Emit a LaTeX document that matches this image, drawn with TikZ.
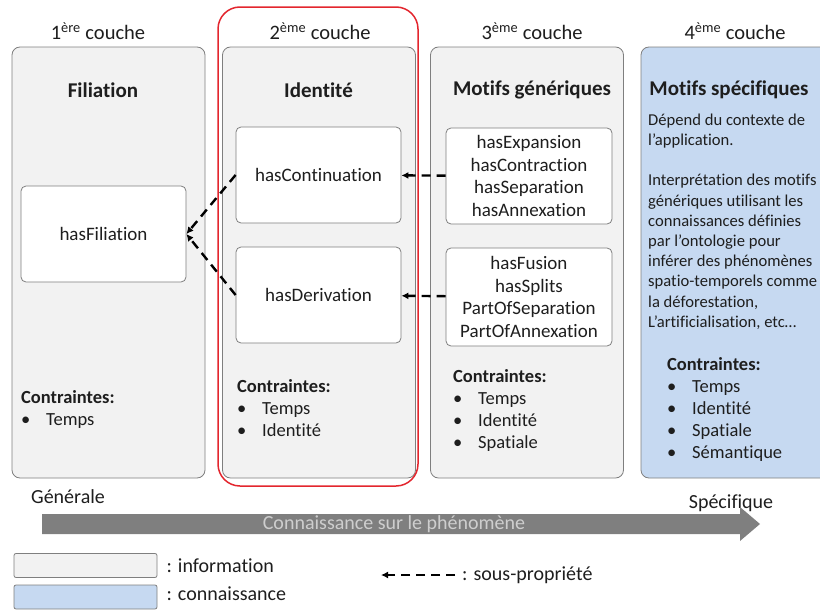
\documentclass[tikz,border=0pt]{standalone}
\usepackage{fontspec}
\setmainfont{Carlito}[Ligatures={NoCommon}]
\usetikzlibrary{arrows.meta,positioning}
\definecolor{Fond}{HTML}{F2F2F2}
\definecolor{Bleu}{HTML}{C6D9F1}
\definecolor{Bord}{HTML}{7F7F7F}
\definecolor{Rouge}{HTML}{E3262E}
\definecolor{Fleche}{HTML}{7F7F7F}
\definecolor{Encre}{HTML}{1E1E1E}
\newcommand{\puce}[1]{\makebox[25pt][l]{\textbullet}#1}

\begin{document}
\begin{tikzpicture}[x=1pt,y=-1pt,text=Encre,
  couche/.style={draw=Bord,fill=Fond,rounded corners=8pt,line width=.8pt,minimum width=193pt,minimum height=431pt,inner sep=0pt},
  prop/.style={draw=Bord,fill=white,rounded corners=5pt,line width=.8pt,minimum width=165pt,minimum height=96pt,inner sep=0pt,align=center,font=\fontsize{19}{22.5}\selectfont},
  sousprop/.style={-{Latex[length=7pt,width=7pt]},line width=2.4pt,dash pattern=on 9pt off 6pt},
  titre/.style={font=\fontsize{20.5}{24}\selectfont},
  entete/.style={font=\fontsize{21}{25}\selectfont\bfseries},
  contr/.style={anchor=north west,inner sep=0pt,align=left,font=\fontsize{18.5}{22}\selectfont},
  legende/.style={inner sep=0pt,font=\fontsize{20}{24}\selectfont}]
\useasboundingbox (0,0) rectangle (820,613);
\clip (0,0) rectangle (820,613);
% les quatre couches
\node[couche] (c1) at (108.5,262.5) {};
\node[couche] (c2) at (319,262.5) {};
\node[couche] (c3) at (527,262.5) {};
\node[couche,fill=Bleu,minimum width=194pt] (c4) at (738,262.5) {};
\node[draw=Rouge,line width=1.5pt,rounded corners=22pt,minimum width=200pt,minimum height=479pt] (sel) at (318,246.5) {};
\foreach \i/\x/\e in {1/98/ère,2/320/ème,3/532/ème,4/735/ème}
  \node[titre] (t\i) at (\x,31) {\i\textsuperscript{\e} couche};
\node[entete] (h1) at (103,90) {Filiation};
\node[entete] (h2) at (318.5,90) {Identité};
\node[entete] (h3) at (532,90) {Motifs génériques};
\node[entete] (h4) at (729,90) {Motifs spécifiques};
% proprietes
\node[prop] (fil) at (103.5,234) {hasFiliation};
\node[prop] (cont) at (318.5,175) {hasContinuation};
\node[prop] (deriv) at (318.5,295) {hasDerivation};
\node[prop,minimum width=166pt] (gen1) at (529,176) {hasExpansion\\hasContraction\\hasSeparation\\hasAnnexation};
\node[prop,minimum width=166pt,minimum height=98pt] (gen2) at (529,297) {hasFusion\\hasSplits\\PartOfSeparation\\PartOfAnnexation};
\draw[sousprop] (gen1) -- (cont);
\draw[sousprop] (gen2) -- (deriv);
\draw[sousprop] (cont.west) -- (fil.east);
\draw[sousprop] (deriv.west) -- (fil.east);
% contraintes
\node[contr] (k1) at (21,390) {\textbf{Contraintes:}\\\puce{Temps}};
\node[contr] (k2) at (237,379) {\textbf{Contraintes:}\\\puce{Temps}\\\puce{Identité}};
\node[contr] (k3) at (453,369) {\textbf{Contraintes:}\\\puce{Temps}\\\puce{Identité}\\\puce{Spatiale}};
\node[contr] (k4) at (667,357) {\textbf{Contraintes:}\\\puce{Temps}\\\puce{Identité}\\\puce{Spatiale}\\\puce{Sémantique}};
\node[contr,font=\fontsize{16.6}{20.2}\selectfont] (txt4) at (648,113.5) {Dépend du contexte de\\l’application.\\[20.2pt]Interprétation des motifs\\génériques utilisant les\\connaissances définies\\par l’ontologie pour\\inférer des phénomènes\\spatio-temporels comme\\la déforestation,\\L’artificialisation, etc…};
% fleche generale -> specifique
\node[legende] (gen) at (68,497) {Générale};
\node[legende] (spec) at (731,503) {Spécifique};
\fill[Fleche] (42,514) -- (740,514) -- (740,507) -- (760,524) -- (740,541) -- (740,534) -- (42,534) -- cycle;
\node[legende,text=Fond!85!black] (conn) at (394,524) {Connaissance sur le phénomène};
% legende
\node[draw=Bord,fill=Fond,rounded corners=2pt,line width=.8pt,minimum width=143pt,minimum height=24pt,inner sep=0pt] (lg1) at (85.5,565.5) {};
\node[draw=Bord,fill=Bleu,rounded corners=2pt,line width=.8pt,minimum width=143pt,minimum height=24pt,inner sep=0pt] (lg2) at (85.5,597) {};
\node[legende,right=9pt of lg1] (lab1) {: information};
\node[legende,right=9pt of lg2,yshift=3pt] (lab2) {: connaissance};
\coordinate (sp0) at (455,575);
\coordinate (sp1) at (381,575);
\draw[sousprop] (sp0) -- (sp1);
\node[legende,right=7pt of sp0] (lab3) {: sous-propriété};
\end{tikzpicture}
\end{document}
